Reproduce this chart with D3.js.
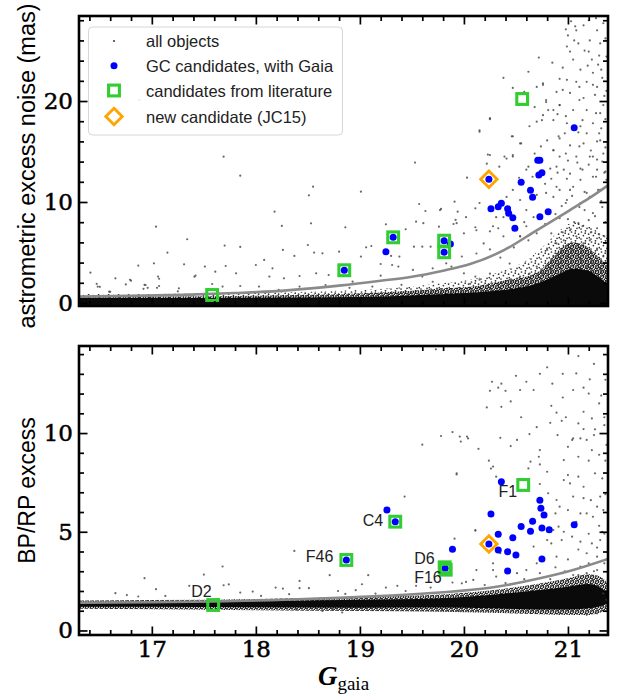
<!DOCTYPE html>
<html><head><meta charset="utf-8">
<script src="https://cdn.jsdelivr.net/npm/d3@7"></script>
<style>html,body{margin:0;padding:0;background:#fff;}svg{display:block;}</style>
</head><body>
<svg id="chart" width="618" height="697"></svg>
<script>
// ================= DATA =================
const xTickValues = [17, 18, 19, 20, 21];
const topYTickValues = [0, 10, 20];
const bottomYTickValues = [0, 5, 10];

const legendLabels = ["all objects", "GC candidates, with Gaia", "candidates from literature", "new candidate (JC15)"];
const topYLabel = "astrometric excess noise (mas)";
const bottomYLabel = "BP/RP excess";

// GC candidates with Gaia: [G, astrometric excess noise]
const gcTop = [[18.85,3.24],[19.25,5.08],[19.32,6.5],[19.81,6.17],[19.81,5.02],[19.87,5.84],
  [20.24,12.25],[20.26,9.34],[20.33,9.54],[20.36,9.87],[20.42,9.34],[20.43,8.88],[20.47,8.45],
  [20.49,7.39],[20.55,11.95],[20.64,11.16],[20.66,10.47],[20.71,14.13],[20.73,14.13],[20.72,12.67],
  [20.75,12.9],[20.73,8.54],[20.81,9.04],[21.06,17.36]];
// GC candidates with Gaia: [G, BP/RP excess]
const gcBottom = [[18.87,3.57],[19.34,5.51],[19.26,6.1],[19.82,3.15],[19.89,4.11],[20.24,4.38],
  [20.26,5.9],[20.36,7.53],[20.33,4.87],[20.33,4.08],[20.42,3.99],[20.47,4.70],[20.50,3.82],
  [20.42,3.01],[20.55,5.27],[20.64,5.02],[20.66,5.53],[20.73,6.59],[20.74,6.19],[20.77,5.85],
  [20.75,5.19],[20.82,5.10],[20.75,3.62],[21.06,5.36]];

// candidates from literature
const litNames = ["D2", "F46", "C4", "D6", "F16", "F1"];
const litTop = [[17.58,0.79],[18.85,3.24],[19.32,6.5],[19.81,6.17],[19.81,5.02],[20.56,20.2]];
const litBottom = [[17.59,1.29],[18.87,3.57],[19.34,5.51],[19.815,3.2],[19.825,3.08],[20.57,7.37]];

// new candidate (JC15)
const newTop = [[20.24,12.25]];
const newBottom = [[20.24,4.38]];

// grey threshold curves
const topCurve = [[16.3,0.63],[16.8,0.7],[17.3,0.8],[17.8,0.98],[18.3,1.25],[18.8,1.72],[19.2,2.2],
  [19.5,2.6],[19.8,3.2],[20.06,3.85],[20.38,5.2],[20.7,7.2],[21.02,9.2],[21.2,10.35],[21.385,11.65]];
const bottomCurve = [[16.3,1.4],[17.0,1.43],[17.6,1.47],[18.2,1.54],[18.8,1.65],[19.3,1.77],
  [19.77,1.92],[20.25,2.16],[20.73,2.64],[21.05,3.06],[21.385,3.62]];

// dense "all objects" cloud envelopes, top panel (upper edge; lower edge is the frame)
const topBandOuter = [[16.3,0.9],[17.0,0.9],[18.0,1.0],[18.8,1.2],[19.3,1.45],[19.7,1.85],[20.06,2.3],
  [20.38,3.2],[20.6,4.2],[20.75,5.5],[20.9,7.0],[21.0,7.8],[21.1,8.0],[21.2,7.6],[21.3,7.0],[21.385,6.5]];
const topBandCore = [[16.3,0.65],[17.0,0.65],[18.0,0.72],[18.5,0.82],[19.0,0.95],[19.5,1.2],[19.8,1.45],
  [20.06,1.6],[20.38,2.2],[20.7,3.0],[20.85,4.5],[20.95,5.6],[21.05,6.0],[21.15,5.8],[21.25,5.0],
  [21.33,4.2],[21.385,3.6]];
const topBandBase = [[16.3,0.5],[17.0,0.5],[18.0,0.52],[19.0,0.6],[19.5,0.75],[20.06,1.0],[20.4,1.3],
  [20.7,1.9],[20.9,2.8],[21.05,3.4],[21.2,3.2],[21.3,2.5],[21.385,1.8]];
// dense cloud, bottom panel: [G, low, high]
const bottomBandOuter = [[16.3,1.1,1.52],[17.0,1.08,1.54],[18.0,1.03,1.6],[19.0,0.98,1.7],[19.77,0.95,1.82],
  [20.25,0.9,2.02],[20.73,0.82,2.38],[21.0,0.78,2.65],[21.2,0.78,2.85],[21.3,0.88,2.75],[21.385,1.05,2.4]];
const bottomBandCore = [[16.3,1.2,1.4],[17.0,1.2,1.42],[18.0,1.17,1.47],[19.0,1.15,1.55],[19.77,1.16,1.63],
  [20.25,1.12,1.8],[20.73,1.06,2.05],[21.0,1.06,2.22],[21.2,1.12,2.35],[21.3,1.22,2.2],[21.385,1.35,1.9]];

// sparse "all objects" points, top panel
const topObjects = [
 [17.69,14.49],[17.85,12.61],[17.04,7.56],[17.34,6.31],[17.15,4.99],[16.41,3.0],[16.87,3.70],[17.02,3.93],
 [17.31,3.83],[17.51,3.6],[17.71,3.66],[17.70,5.68],[17.85,5.55],[16.65,2.44],[16.80,2.21],[17.06,2.61],
 [17.42,2.71],[17.61,3.10],[17.81,2.94],[16.48,1.62],[16.59,1.12],[16.94,1.78],[17.07,1.68],[17.26,1.45],
 [17.58,1.88],[17.68,1.62],[17.85,1.68],[18.0,3.76],[18.08,4.26],[18.18,9.04],[18.25,7.63],[18.51,10.66],
 [18.55,11.52],[19.01,11.02],[19.53,13.9],[20.03,12.41],[18.53,7.89],[18.86,7.49],[18.50,5.74],[18.26,5.25],
 [18.37,4.66],[18.56,4.99],[18.64,4.92],[18.80,5.08],[18.16,3.43],[18.27,2.44],[18.42,2.67],[18.58,2.94],
 [18.13,2.61],[18.70,2.77],[19.01,4.59],[19.06,5.51],[19.11,5.64],[19.20,3.86],[19.30,4.66],[19.38,4.59],
 [19.31,3.76],[19.37,3.60],[19.25,7.79],[19.44,7.30],[19.54,8.05],[19.57,9.80],[19.63,9.11],[19.78,9.31],
 [19.91,10.03],[19.94,9.04],[19.76,7.56],[19.90,7.82],[19.92,8.22],[20.0,6.9],[20.11,9.37],[19.52,5.58],
 [19.60,5.58],[19.68,5.58],[19.51,3.27],[19.70,3.43],[19.83,3.93],[19.60,2.61],[20.0,2.94],[20.11,2.61],
 [18.80,3.27],[18.42,1.62],[18.67,1.78],[18.93,2.11],[19.12,1.62],[18.03,1.62],[18.22,1.29],
 [16.47,1.9],[16.50,1.6],[16.75,1.84],[16.79,2.3],[16.92,1.4],[16.93,1.8],[16.96,1.5],[17.07,2.4],
 [17.05,1.5],[17.25,1.15],[17.41,2.6],[16.6,1.1],[16.88,20.1],
 [21.0,26.5],[21.08,27.0],[21.15,27.5],[21.21,26.0],[21.31,25.7],[21.34,27.7],[21.28,27.0],[21.16,25.0],
 [21.02,24.9],[21.05,24.1],[21.23,24.1],[21.32,23.1],[21.12,23.1],[20.92,22.2],[20.99,22.1],[21.08,21.9],
 [21.18,21.9],[21.28,21.4],[20.76,21.6],[20.62,22.9],[20.38,22.3],[20.89,20.9],[21.02,20.8],[21.15,20.3],
 [21.26,20.6],[20.79,19.9],[20.92,19.6],[21.05,19.1],[21.18,19.1],[21.31,18.8],[20.81,19.1],[20.75,18.1],
 [20.86,18.1],[20.99,17.8],[21.12,17.5],[21.24,17.8],[21.32,17.3],[20.63,17.5],[20.47,16.5],[20.55,15.8],
 [20.80,16.1],[20.91,16.5],[21.02,15.6],[21.15,15.8],[21.28,16.0],[20.86,15.1],[20.92,14.5],[21.08,14.5],
 [21.21,14.5],[21.34,14.8],[20.39,14.5],[20.47,14.5],[20.62,13.5],[20.83,13.3],[20.96,13.2],[21.12,13.3],
 [21.28,13.2],[20.84,12.3],[20.99,12.3],[21.12,12.2],[21.24,12.5],[20.89,11.5],[21.02,11.2],[21.16,11.0],
 [21.29,11.2],[20.86,10.5],[20.99,10.2],[21.12,9.9],[21.21,10.5],[20.70,10.7],[20.60,9.2],[20.67,8.5],
 [20.83,9.2],[20.92,8.4],[20.38,8.5],[20.33,7.4],[20.25,7.1],[20.54,6.6],[20.62,6.2],[20.11,7.5],
 [20.19,5.9],[20.12,4.9],[20.15,17.1],[20.25,18.3],[20.23,14.7],[20.47,21.3],[20.99,25.4],[21.20,24.9],
 [21.03,27.9],[21.07,27.4],
 [20.25,18.2],[20.15,16.96],[19.77,9.2],[20.25,14.65],[20.22,13.8],[20.34,13.5],[20.41,14.3],[20.47,14.65],
 [20.54,15.8],[20.46,16.5],[20.70,17.95],[20.76,18.6],[20.86,19.1],[20.92,19.6],[20.79,20.1],[20.70,21.4],
 [20.76,21.75],[20.95,21.1],[21.11,21.4],[21.24,21.6],[21.11,20.1],[20.98,18.5],[21.14,18.1],[21.27,18.8],
 [21.18,16.8],[21.31,16.1],[20.92,16.3],[20.86,15.15],[20.98,14.8],[21.11,15.5],[21.24,14.5],[20.89,13.5],
 [21.02,12.8],[21.14,13.2],[21.27,12.5],[20.60,13.2],[20.66,12.5],[20.47,11.2],[20.41,10.5],[20.54,10.2],
 [20.79,10.9],[20.92,11.2],[21.05,11.5],[21.18,10.9],[21.31,11.2],[20.98,9.9],[21.11,9.5],[21.24,8.9],
 [20.15,9.9],[19.93,7.9],[20.02,8.5],[20.31,8.5],[20.28,7.6],[20.12,7.2],[20.47,7.2],[20.60,7.6],
 [20.70,6.9],[20.38,6.6],[20.54,6.6],[19.61,7.9],
 [20.80,5.25],[20.89,5.9],[20.96,6.2],[21.02,7.2],[21.08,6.6],[21.15,5.9],[21.21,6.2],[21.28,5.25],
 [21.34,4.6],[20.86,4.6],[20.92,3.9],[20.99,4.6],[21.05,5.25],[21.12,4.25],[21.18,3.6],[21.24,3.9],
 [21.31,3.3],[21.37,2.9],[20.70,3.6],[20.63,2.9],[20.54,2.6],[20.44,2.3],[20.76,2.9],[20.83,3.3],
 [20.44,3.9],[20.25,2.9],[20.15,2.3],[20.06,1.9],[21.36,8.0],[21.33,9.5],[21.36,13.0],[21.35,20.5],
 [21.10,7.9],[21.20,8.2],[21.28,7.4],[21.35,6.6],
 [20.95,7.0],[21.0,8.3],[21.06,8.0],[21.14,7.6],[21.22,7.0],[21.3,6.8],[21.26,8.6],[21.16,9.2],[21.04,10.6],
 [20.94,9.6],[20.88,8.8],[20.78,7.8],[20.84,6.9],[21.32,10.1],[21.37,12.2],[21.33,14.0],[21.36,15.4],
 [21.3,16.8],[21.36,18.2],[21.34,19.6],[21.37,21.0],[21.33,22.3],[21.37,24.4],[21.36,26.2],[21.29,23.6],
 [21.24,22.8],[21.19,23.5],[21.1,25.7],[21.06,26.0],[20.98,27.1],[21.2,28.0],[21.27,28.2],[21.3,24.5],
 [20.95,23.3],[20.85,23.8],[20.72,24.3],[20.58,20.9],[20.68,19.4],[20.9,18.7],[21.1,16.9],[21.22,15.1],
 [21.28,14.2],[21.09,13.9],[21.0,14.1],[20.97,16.8],[20.74,15.5],[20.68,14.8],[20.78,11.8],[20.9,12.9],
 [21.2,13.7],[21.35,12.9],[20.53,12.4],[20.58,8.0],[20.48,5.5],[20.35,4.5],[20.25,5.3],[19.98,4.6],
 [19.88,3.6],[19.7,2.1],[19.4,1.8],[19.2,2.7],[18.9,1.5]
];

// sparse "all objects" points, bottom panel
const bottomObjects = [
 [19.73,14.24],[19.78,9.85],[19.89,10.05],[19.97,9.57],[20.03,9.82],[19.60,9.41],[19.93,7.9],[19.43,6.78],
 [20.11,5.09],[19.91,4.65],[18.37,4.03],[17.68,3.24],[17.50,2.83],[16.93,2.65],[17.04,2.09],[16.65,1.89],
 [16.76,1.79],[16.87,1.72],[17.13,1.75],[17.36,2.26],[17.69,2.29],[17.74,2.33],[17.85,1.92],[17.97,1.97],
 [18.05,1.75],[18.19,2.17],[18.26,2.12],[18.32,1.84],[18.42,2.51],[18.42,2.14],[18.51,2.14],[18.71,2.80],
 [18.79,2.0],[18.86,1.85],[18.96,2.04],[19.02,2.34],[19.08,2.80],[19.15,1.87],[19.25,2.17],[19.36,2.26],
 [19.44,2.0],[19.54,2.26],[19.68,2.17],[19.87,2.80],[19.89,2.43],[19.98,2.39],[20.02,2.46],
 [18.39,1.08],[18.64,0.99],[18.74,1.08],[18.83,0.91],[19.95,0.99],[19.79,1.08],
 [20.04,14.51],[20.80,13.33],[20.33,12.30],[20.25,12.14],[20.40,12.14],[20.54,12.18],[20.67,12.18],
 [21.05,12.18],[21.08,13.02],[21.21,12.72],[20.36,11.33],[20.22,11.30],[20.84,11.38],[20.89,11.03],
 [20.83,10.52],[20.94,10.62],[21.10,10.49],[21.23,10.74],[21.26,10.19],[21.15,11.08],[20.63,9.95],
 [20.51,9.65],[20.35,9.76],[20.45,9.34],[19.96,9.82],[20.04,9.73],[20.73,9.14],[20.72,8.80],[20.73,8.41],
 [20.80,8.04],[20.64,8.55],[20.96,8.63],[21.04,9.65],[21.05,9.73],[21.12,9.73],[21.18,9.65],[21.23,9.14],
 [21.0,7.87],[21.02,7.45],[21.10,7.79],[21.15,7.28],[21.26,7.96],[21.31,6.78],[21.28,6.27],[21.34,6.1],
 [21.24,5.76],[21.18,5.93],[21.12,5.93],[21.0,6.1],[20.92,6.27],[20.88,5.93],[20.91,5.26],[20.96,5.0],
 [21.04,4.75],[21.12,4.5],[21.23,4.41],[21.31,4.58],[21.18,3.91],[21.28,3.74],[20.84,4.41],[20.89,3.74],
 [20.67,4.25],[20.60,3.06],[20.51,2.9],[20.73,2.9],[20.28,3.40],[20.28,3.06],[20.31,2.73],[20.12,3.06],
 [20.09,2.56],[19.93,7.96],[20.11,5.05],[20.28,8.3],[20.31,7.79],[20.62,8.21],[20.73,7.42],[20.81,6.95],
 [20.89,6.61],[20.96,7.62],[21.05,6.78],[20.86,5.09],[20.94,4.58],[20.80,4.58],[20.35,3.91],
 [20.26,8.2],[20.24,8.6],[20.14,9.2],[20.27,12.6],[20.36,12.5],[20.5,12.9],[20.73,13.0],[21.2,12.0],
 [21.3,11.5],[21.15,12.3],[20.95,11.8],
 [21.18,2.9],[21.28,3.06],[21.12,3.23],[21.24,2.56],[21.31,2.22],[21.34,1.88],[21.37,1.55],[21.34,1.21],
 [21.28,0.87],[21.18,0.79],[21.05,0.96],[20.92,0.87],[20.83,2.6],[21.0,2.56],[21.05,2.81],[20.95,2.9],
 [21.35,3.4],[21.33,5.0],[21.36,8.6],[21.35,10.8],
 [21.0,3.6],[21.1,4.1],[21.2,4.9],[21.3,5.3],[21.36,6.9],[21.33,7.7],[21.37,9.4],[21.3,8.9],[21.2,8.6],
 [21.1,8.8],[21.0,9.3],[20.9,9.9],[21.25,9.9],[21.32,11.9],[21.36,12.7],[21.25,13.5],[21.1,13.9],
 [20.95,13.0],[20.85,12.5],[20.6,12.6],[20.45,11.6],[20.55,10.8],[20.7,10.3],[20.98,10.8],[21.15,10.2],
 [21.35,10.4],[21.22,6.6],[21.15,6.7],[21.08,5.5],[21.2,3.4],[21.28,4.2],[21.35,4.9],[20.88,3.2],
 [20.97,3.0],[20.7,3.4],[20.58,2.6],[20.4,2.4],[20.2,2.3],[21.1,2.8],[21.25,3.0]
];

// ================= CHART =================
const svg = d3.select("#chart");
const left = 79, right = 608;
const panels = [
  {top: 16, bottom: 306, domain: [-0.3, 28.42], majors: topYTickValues, minorStep: 2, minorMax: 28,
   objects: topObjects, curve: topCurve, gc: gcTop, lit: litTop, nw: newTop, showX: false, label: topYLabel},
  {top: 346, bottom: 635, domain: [-0.23, 14.41], majors: bottomYTickValues, minorStep: 1, minorMax: 14,
   objects: bottomObjects, curve: bottomCurve, gc: gcBottom, lit: litBottom, nw: newBottom, showX: true, label: bottomYLabel}
];

const x = d3.scaleLinear().domain([16.3, 21.385]).range([left, right]);
const xMinor = d3.range(16.4, 21.39, 0.2).map(v => +v.toFixed(1)).filter(v => Math.abs(v - Math.round(v)) > 1e-6);

const serif = "'DejaVu Serif', 'Liberation Serif', serif";
const sans = "'Liberation Sans', Arial, sans-serif";
const GREEN = "#32CD32", ORANGE = "#FFA500", BLUE = "#0000ff";

// stipple fills for the dense clouds of points
const defs = svg.append("defs");
function stipple(id, size, dots, r, col) {
  const pt = defs.append("pattern").attr("id", id).attr("patternUnits", "userSpaceOnUse")
    .attr("width", size).attr("height", size);
  dots.forEach(d => pt.append("circle").attr("cx", d[0]).attr("cy", d[1]).attr("r", r).attr("fill", col));
}
stipple("stipSparse", 10, [[1.5,2],[5.5,0.8],[8.6,4.2],[3.4,5.6],[7,8.3],[1,9],[5.2,3.2],[9.3,7.6]], 0.85, "#333");
stipple("stipDense", 5, [[1,1],[3.5,2],[2,3.8],[4.5,4.5],[0.3,3],[3,0.2]], 0.95, "#111");

panels.forEach((p, i) => {
  const y = d3.scaleLinear().domain(p.domain).range([p.bottom, p.top]);
  const g = svg.append("g");
  const clipId = "clip" + i;
  svg.append("clipPath").attr("id", clipId).append("rect")
    .attr("x", left).attr("y", p.top).attr("width", right - left).attr("height", p.bottom - p.top);
  const plot = g.append("g").attr("clip-path", `url(#${clipId})`);

  // dense clouds
  if (i === 0) {
    const a = d3.area().x(d => x(d[0])).y0(y(p.domain[0])).y1(d => y(d[1])).curve(d3.curveMonotoneX);
    plot.append("path").datum(topBandOuter).attr("d", a).attr("fill", "url(#stipSparse)");
    plot.append("path").datum(topBandCore).attr("d", a).attr("fill", "url(#stipDense)");
    plot.append("path").datum(topBandBase).attr("d", a).attr("fill", "#0a0a0a");
  } else {
    const a = d3.area().x(d => x(d[0])).y0(d => y(d[1])).y1(d => y(d[2])).curve(d3.curveMonotoneX);
    plot.append("path").datum(bottomBandOuter).attr("d", a).attr("fill", "url(#stipDense)");
    plot.append("path").datum(bottomBandCore).attr("d", a).attr("fill", "#0a0a0a");
  }

  // all objects
  plot.append("g").selectAll("circle").data(p.objects).join("circle")
    .attr("cx", d => x(d[0])).attr("cy", d => y(d[1])).attr("r", 1.1)
    .attr("fill", "#444").attr("opacity", 0.8);

  // curve
  plot.append("path").datum(p.curve)
    .attr("d", d3.line().x(d => x(d[0])).y(d => y(d[1])).curve(d3.curveMonotoneX))
    .attr("fill", "none").attr("stroke", "#8a8a8a").attr("stroke-width", 2.6);

  // GC candidates
  plot.append("g").selectAll("circle").data(p.gc).join("circle")
    .attr("cx", d => x(d[0])).attr("cy", d => y(d[1])).attr("r", 3.5).attr("fill", BLUE);

  // literature squares
  plot.append("g").selectAll("rect").data(p.lit).join("rect")
    .attr("x", d => x(d[0]) - 5.4).attr("y", d => y(d[1]) - 5.4)
    .attr("width", 10.8).attr("height", 10.8)
    .attr("fill", "none").attr("stroke", GREEN).attr("stroke-width", 3.1);

  // new candidate diamond
  plot.append("g").selectAll("path").data(p.nw).join("path")
    .attr("d", d => `M${x(d[0])},${y(d[1]) - 8.2}L${x(d[0]) + 8.2},${y(d[1])}L${x(d[0])},${y(d[1]) + 8.2}L${x(d[0]) - 8.2},${y(d[1])}Z`)
    .attr("fill", "none").attr("stroke", ORANGE).attr("stroke-width", 2.9);

  // labels of literature candidates (bottom panel)
  if (i === 1) {
    const offs = {D2: [-1.5, -8], F46: [-13, 2], C4: [-12, 4], D6: [-10, -3.5], F16: [-4, 13.5], F1: [-6, 12]};
    g.append("g").selectAll("text").data(p.lit).join("text")
      .attr("x", (d, k) => x(d[0]) + offs[litNames[k]][0])
      .attr("y", (d, k) => y(d[1]) + offs[litNames[k]][1])
      .attr("text-anchor", "end").attr("font-family", sans).attr("font-size", 16).attr("fill", "#222")
      .text((d, k) => litNames[k]);
  }

  // ticks (inward, all four sides)
  const yMinor = d3.range(0, p.minorMax + 0.01, p.minorStep).filter(v => !p.majors.includes(v));
  const styleAx = sel => { sel.select(".domain").remove(); sel.selectAll("line").attr("stroke", "#000").attr("stroke-width", 1.7); };
  g.append("g").attr("transform", `translate(0,${p.bottom})`).call(d3.axisBottom(x).tickValues(xTickValues).tickSize(-8.5).tickFormat("")).call(styleAx);
  g.append("g").attr("transform", `translate(0,${p.bottom})`).call(d3.axisBottom(x).tickValues(xMinor).tickSize(-5).tickFormat("")).call(styleAx);
  g.append("g").attr("transform", `translate(0,${p.top})`).call(d3.axisTop(x).tickValues(xTickValues).tickSize(-8.5).tickFormat("")).call(styleAx);
  g.append("g").attr("transform", `translate(0,${p.top})`).call(d3.axisTop(x).tickValues(xMinor).tickSize(-5).tickFormat("")).call(styleAx);
  g.append("g").attr("transform", `translate(${left},0)`).call(d3.axisLeft(y).tickValues(p.majors).tickSize(-8.5).tickFormat("")).call(styleAx);
  g.append("g").attr("transform", `translate(${left},0)`).call(d3.axisLeft(y).tickValues(yMinor).tickSize(-5).tickFormat("")).call(styleAx);
  g.append("g").attr("transform", `translate(${right},0)`).call(d3.axisRight(y).tickValues(p.majors).tickSize(-8.5).tickFormat("")).call(styleAx);
  g.append("g").attr("transform", `translate(${right},0)`).call(d3.axisRight(y).tickValues(yMinor).tickSize(-5).tickFormat("")).call(styleAx);

  // y tick labels
  const yl = g.append("g").attr("transform", `translate(${left},0)`)
    .call(d3.axisLeft(y).tickValues(p.majors).tickSize(0).tickPadding(6).tickFormat(d3.format("d")));
  yl.select(".domain").remove();
  yl.selectAll("text").attr("font-family", serif).attr("font-size", 23).attr("fill", "#000")
    .attr("stroke", "#000").attr("stroke-width", 0.5);

  if (p.showX) {
    const xl = g.append("g").attr("transform", `translate(0,${p.bottom})`)
      .call(d3.axisBottom(x).tickValues(xTickValues).tickSize(0).tickPadding(6).tickFormat(d3.format("d")));
    xl.select(".domain").remove();
    xl.selectAll("text").attr("font-family", serif).attr("font-size", 23).attr("fill", "#000")
      .attr("stroke", "#000").attr("stroke-width", 0.5);
  }

  // frame
  g.append("rect").attr("x", left).attr("y", p.top).attr("width", right - left).attr("height", p.bottom - p.top)
    .attr("fill", "none").attr("stroke", "#000").attr("stroke-width", 2.6);

  // y axis label
  g.append("text").attr("transform", `translate(35,${(p.top + p.bottom) / 2 + (i === 0 ? 5 : 0)}) rotate(-90)`)
    .attr("text-anchor", "middle").attr("font-family", sans).attr("font-size", i === 0 ? 23.5 : 23).attr("fill", "#000")
    .text(p.label);
});

// x axis label
const xt = svg.append("text").attr("x", (left + right) / 2).attr("y", 685).attr("text-anchor", "middle")
  .attr("font-family", "'Liberation Serif', serif").attr("fill", "#000");
xt.append("tspan").attr("font-style", "italic").attr("font-weight", "bold").attr("font-size", 27).text("G");
xt.append("tspan").attr("font-size", 19).attr("dy", 5).text("gaia");

// legend
const lg = svg.append("g");
lg.append("rect").attr("x", 88.5).attr("y", 27).attr("width", 254).attr("height", 108).attr("rx", 4)
  .attr("fill", "#fff").attr("fill-opacity", 0.85).attr("stroke", "#d6d6d6").attr("stroke-width", 1);
const rowY = [41, 65.7, 90.5, 116.5];
const mx = 114;
lg.append("circle").attr("cx", mx).attr("cy", rowY[0]).attr("r", 1.1).attr("fill", "#444");
lg.append("circle").attr("cx", mx).attr("cy", rowY[1]).attr("r", 3.5).attr("fill", BLUE);
lg.append("rect").attr("x", mx - 5.4).attr("y", rowY[2] - 5.4).attr("width", 10.8).attr("height", 10.8)
  .attr("fill", "none").attr("stroke", GREEN).attr("stroke-width", 3.1);
lg.append("path").attr("d", `M${mx},${rowY[3] - 8.2}L${mx + 8.2},${rowY[3]}L${mx},${rowY[3] + 8.2}L${mx - 8.2},${rowY[3]}Z`)
  .attr("fill", "none").attr("stroke", ORANGE).attr("stroke-width", 2.9);
lg.selectAll("text.l").data(legendLabels).join("text").attr("class", "l")
  .attr("x", 146).attr("y", (d, k) => rowY[k] + 6).attr("font-family", sans).attr("font-size", 16.5).attr("fill", "#222")
  .text(d => d);
</script>
</body></html>
